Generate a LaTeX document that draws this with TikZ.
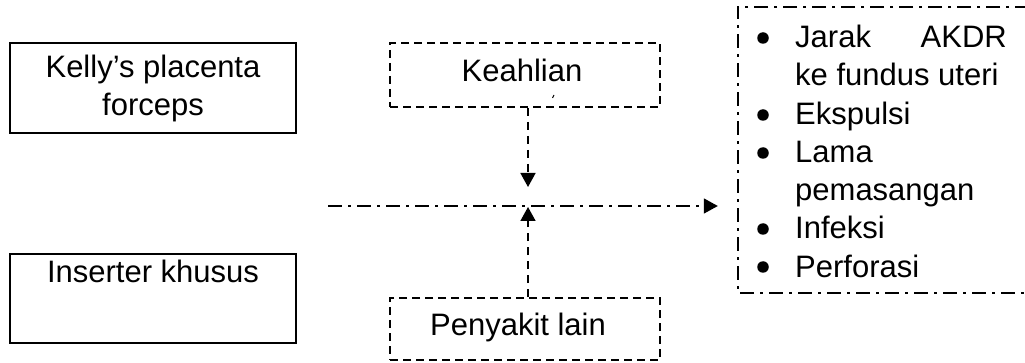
\documentclass[tikz,border=0pt]{standalone}
\usepackage{fontspec}
\setmainfont{Liberation Sans}
\usetikzlibrary{arrows.meta,calc}
\begin{document}
\begin{tikzpicture}[x=1pt,y=-1pt,
  every node/.style={font=\fontsize{31}{38}\selectfont, inner sep=0pt},
  solidbox/.style={draw, line width=1.8pt, rectangle},
  dashbox/.style={draw, line width=1.6pt, dash pattern=on 8pt off 5pt},
  dashdot/.style={line width=1.6pt, dash pattern=on 14pt off 6pt on 3pt off 6pt},
  dasharrow/.style={line width=1.6pt, dash pattern=on 8pt off 6pt, -{Triangle[length=14pt,width=15pt]}},
  txt/.style={anchor=base west},
  bul/.style={fill, circle, minimum size=11.5pt, inner sep=0pt}
]
\useasboundingbox (0,0) rectangle (1025,363);
\clip (0,0) rectangle (1025,363);
% left boxes
\node[solidbox, minimum width=286pt, minimum height=90pt, align=center] (kelly) at (153,88) {Kelly’s placenta\\forceps};
\node[solidbox, minimum width=286pt, minimum height=89pt] (insbox) at (153,298.5) {};
\node[anchor=base] (ins) at (153,283) {Inserter khusus};
% dashed boxes
\node[dashbox, minimum width=270pt, minimum height=64pt] (keah) at (525,75) {};
\node[anchor=base] (keaht) at (522,82) {Keahlian};
\node[dashbox, minimum width=270pt, minimum height=62pt] (peny) at (525,329) {};
\node[anchor=base] (penyt) at (518,335) {Penyakit lain};
\draw[line width=1pt] (552.5,98) -- (554,95);
% centre line
\coordinate (hstart) at (328,206);
\coordinate (mid) at (528,206);
\coordinate (topend) at (528,187);
\coordinate (botend) at (528,207);
% right box
\node[minimum width=300pt, minimum height=286pt] (out) at (888,150) {};
\draw[dashdot] ($(out.north east)+(20,0)$) -- (out.north west) -- (out.south west) -- ($(out.south east)+(20,0)$);
% connectors
\draw[dasharrow] (keah.south -| mid) -- (topend);
\draw[dasharrow] (peny.north -| mid) -- (botend);
\draw[dashdot, -{Triangle[length=14pt,width=15pt]}] (hstart) -- ($(hstart -| out.west)+(-20,0)$);
% bullets
\node[bul] (b1) at (763,38) {};
\node[bul] (b2) at (763,115) {};
\node[bul] (b3) at (763,153) {};
\node[bul] (b4) at (763,229) {};
\node[bul] (b5) at (763,267) {};
\node[txt] (l1a) at (795,48) {Jarak};
\node[anchor=base east] (l1b) at (1007,48) {AKDR};
\node[txt] (l2) at (795,86) {ke fundus uteri};
\node[txt] (l3) at (795,124.5) {Ekspulsi};
\node[txt] (l4) at (795,163) {Lama};
\node[txt] (l5) at (795,201) {pemasangan};
\node[txt] (l6) at (795,239) {Infeksi};
\node[txt] (l7) at (795,277) {Perforasi};
\end{tikzpicture}
\end{document}
